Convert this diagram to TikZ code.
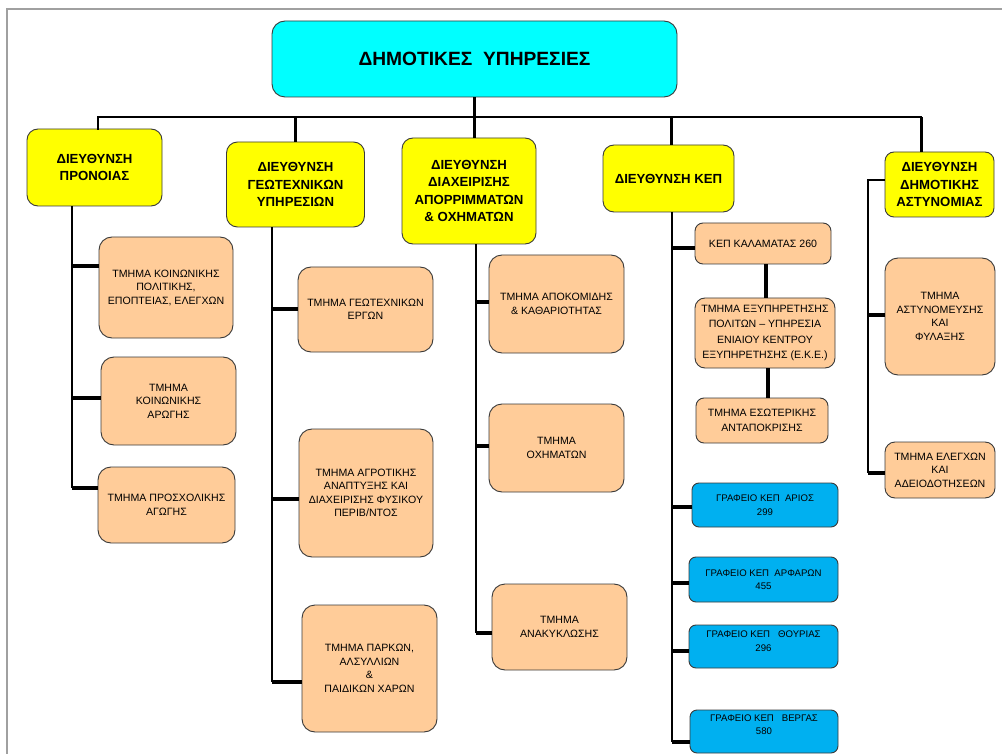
\documentclass[tikz,border=0pt]{standalone}
\usepackage{fontspec}
\setmainfont{Liberation Sans}
\definecolor{cyanbox}{HTML}{00FFFF}
\definecolor{yelbox}{HTML}{FFFF00}
\definecolor{peach}{HTML}{FFCC99}
\definecolor{bluebox}{HTML}{00B0F0}
\definecolor{edge}{HTML}{3A3A3A}
\definecolor{frame}{HTML}{A0A0A0}
\tikzset{
  basebox/.style={draw=edge, line width=0.9pt, align=center, inner sep=2pt},
  topbox/.style={basebox, fill=cyanbox, rounded corners=13pt, font=\fontsize{19.2}{22}\selectfont\bfseries},
  deptbox/.style={basebox, fill=yelbox, rounded corners=11pt, font=\fontsize{13.2}{17.2}\selectfont\bfseries},
  subbox/.style={basebox, fill=peach, rounded corners=13pt, font=\fontsize{10.6}{13.5}\selectfont},
  smallbox/.style={basebox, fill=peach, rounded corners=8pt, font=\fontsize{10.6}{15}\selectfont},
  kepbox/.style={basebox, fill=bluebox, rounded corners=7pt, font=\fontsize{9.6}{13.5}\selectfont},
  busline/.style={line width=2pt, line cap=rect},
  dropline/.style={line width=3pt},
  trunkline/.style={line width=2.6pt},
  connline/.style={line width=3.8pt},
}
\begin{document}
\begin{tikzpicture}[x=1pt,y=-1pt]
\useasboundingbox (0,0) rectangle (1002,754);
% page frame
\draw[frame, line width=1.2pt] (1002,9) -- (7,9) -- (7,754);

% top
\node[topbox, minimum width=405pt, minimum height=76pt] (top) at (474.5,59) {ΔΗΜΟΤΙΚΕΣ\ \ ΥΠΗΡΕΣΙΕΣ};

% departments
\node[deptbox, minimum width=135pt, minimum height=77pt] (D1) at (94.5,167.5) {ΔΙΕΥΘΥΝΣΗ\\ΠΡΟΝΟΙΑΣ};
\node[deptbox, minimum width=138pt, minimum height=85pt] (D2) at (295.5,184.5) {ΔΙΕΥΘΥΝΣΗ\\ΓΕΩΤΕΧΝΙΚΩΝ\\ΥΠΗΡΕΣΙΩΝ};
\node[deptbox, minimum width=134pt, minimum height=106pt] (D3) at (469,191) {ΔΙΕΥΘΥΝΣΗ\\ΔΙΑΧΕΙΡΙΣΗΣ\\ΑΠΟΡΡΙΜΜΑΤΩΝ\\\& ΟΧΗΜΑΤΩΝ};
\node[deptbox, minimum width=131pt, minimum height=67pt] (D4) at (668.5,178.5) {ΔΙΕΥΘΥΝΣΗ ΚΕΠ};
\node[deptbox, minimum width=109pt, minimum height=65pt, rounded corners=9pt] (D5) at (939.5,184.5) {ΔΙΕΥΘΥΝΣΗ\\ΔΗΜΟΤΙΚΗΣ\\ΑΣΤΥΝΟΜΙΑΣ};

% Pronoia children
\node[subbox, minimum width=134pt, minimum height=101pt] (C11) at (166,287.5) {ΤΜΗΜΑ ΚΟΙΝΩΝΙΚΗΣ\\ΠΟΛΙΤΙΚΗΣ,\\ΕΠΟΠΤΕΙΑΣ, ΕΛΕΓΧΩΝ};
\node[subbox, minimum width=135pt, minimum height=88pt] (C12) at (168.5,401) {ΤΜΗΜΑ\\ΚΟΙΝΩΝΙΚΗΣ\\ΑΡΩΓΗΣ};
\node[subbox, minimum width=137pt, minimum height=76pt] (C13) at (166.5,505) {ΤΜΗΜΑ ΠΡΟΣΧΟΛΙΚΗΣ\\ΑΓΩΓΗΣ};

% Geotechnical children
\node[subbox, minimum width=135pt, minimum height=85pt] (C21) at (365.5,309.5) {ΤΜΗΜΑ ΓΕΩΤΕΧΝΙΚΩΝ\\ΕΡΓΩΝ};
\node[subbox, minimum width=134pt, minimum height=128pt] (C22) at (366,493) {ΤΜΗΜΑ ΑΓΡΟΤΙΚΗΣ\\ΑΝΑΠΤΥΞΗΣ ΚΑΙ\\ΔΙΑΧΕΙΡΙΣΗΣ ΦΥΣΙΚΟΥ\\ΠΕΡΙΒ/ΝΤΟΣ};
\node[subbox, minimum width=135pt, minimum height=127pt] (C23) at (369.5,668.5) {ΤΜΗΜΑ ΠΑΡΚΩΝ,\\ΑΛΣΥΛΛΙΩΝ\\\&\\ΠΑΙΔΙΚΩΝ ΧΑΡΩΝ};

% Waste children
\node[subbox, minimum width=135pt, minimum height=98pt] (C31) at (556.5,304) {ΤΜΗΜΑ ΑΠΟΚΟΜΙΔΗΣ\\\& ΚΑΘΑΡΙΟΤΗΤΑΣ};
\node[subbox, minimum width=135pt, minimum height=88pt] (C32) at (556.5,448) {ΤΜΗΜΑ\\ΟΧΗΜΑΤΩΝ};
\node[subbox, minimum width=135pt, minimum height=86pt] (C33) at (559.5,627) {ΤΜΗΜΑ\\ΑΝΑΚΥΚΛΩΣΗΣ};

% KEP children
\node[smallbox, minimum width=136pt, minimum height=41pt] (K1) at (763,243.5) {ΚΕΠ ΚΑΛΑΜΑΤΑΣ 260};
\node[subbox, rounded corners=10pt, minimum width=140pt, minimum height=70pt, font=\fontsize{10.6}{15.5}\selectfont] (K2) at (765,333) {ΤΜΗΜΑ ΕΞΥΠΗΡΕΤΗΣΗΣ\\ΠΟΛΙΤΩΝ – ΥΠΗΡΕΣΙΑ\\ΕΝΙΑΙΟΥ ΚΕΝΤΡΟΥ\\ΕΞΥΠΗΡΕΤΗΣΗΣ (Ε.Κ.Ε.)};
\node[smallbox, minimum width=132pt, minimum height=45pt] (K3) at (762,420.5) {ΤΜΗΜΑ ΕΣΩΤΕΡΙΚΗΣ\\ΑΝΤΑΠΟΚΡΙΣΗΣ};
\node[kepbox, minimum width=146pt, minimum height=44pt] (B1) at (765,505) {ΓΡΑΦΕΙΟ ΚΕΠ\ \ ΑΡΙΟΣ\\299};
\node[kepbox, minimum width=149pt, minimum height=45pt] (B2) at (763.5,579.5) {ΓΡΑΦΕΙΟ ΚΕΠ\ \ ΑΡΦΑΡΩΝ\\455};
\node[kepbox, minimum width=149pt, minimum height=43pt] (B3) at (763.5,646.5) {ΓΡΑΦΕΙΟ ΚΕΠ\ \ \ ΘΟΥΡΙΑΣ\\296\\[-3pt]\mbox{}};
\node[kepbox, minimum width=148pt, minimum height=43pt] (B4) at (764,731.5) {ΓΡΑΦΕΙΟ ΚΕΠ\ \ \ ΒΕΡΓΑΣ\\580\\\mbox{}};

% Police children
\node[subbox, minimum width=110pt, minimum height=117pt] (P1) at (940,316.5) {ΤΜΗΜΑ\\ΑΣΤΥΝΟΜΕΥΣΗΣ\\ΚΑΙ\\ΦΥΛΑΞΗΣ};
\node[subbox, rounded corners=10pt, minimum width=110pt, minimum height=56pt] (P2) at (940,470) {ΤΜΗΜΑ ΕΛΕΓΧΩΝ\\ΚΑΙ\\ΑΔΕΙΟΔΟΤΗΣΕΩΝ};

% bus
\coordinate (b1) at (98,117);
\coordinate (b2) at (295,117);
\coordinate (b3) at (474,117);
\coordinate (b4) at (671,117);
\coordinate (b5) at (921,117);
\draw[dropline] (top.south) -- (top.south |- b3);
\draw[busline] (b1) -- (b5);
\draw[busline] (b1) -- (b1 |- D1.north);
\draw[dropline] (b2) -- (b2 |- D2.north);
\draw[dropline] (b3) -- (b3 |- D3.north);
\draw[dropline] (b4) -- (b4 |- D4.north);
\draw[dropline] (b5) -- (b5 |- D5.north);

% trunk Pronoia
\coordinate (t1) at (72,488);
\draw[trunkline] (D1.south -| t1) -- (t1);
\draw[connline] (72,266) -- (C11.west |- 0,266);
\draw[connline] (72,398) -- (C12.west |- 0,398);
\draw[connline] (t1) -- (C13.west |- t1);

% trunk Geotech
\coordinate (t2) at (272,682);
\draw[trunkline] (D2.south -| t2) -- (t2);
\draw[connline] (272,309) -- (C21.west |- 0,309);
\draw[connline] (272,499) -- (C22.west |- 0,499);
\draw[connline] (t2) -- (C23.west |- t2);

% trunk Waste
\coordinate (t3) at (476,633);
\draw[trunkline] (D3.south -| t3) -- (t3);
\draw[connline] (476,302) -- (C31.west |- 0,302);
\draw[connline] (476,446) -- (C32.west |- 0,446);
\draw[connline] (t3) -- (C33.west |- t3);

% trunk KEP
\coordinate (t4) at (672,742);
\draw[trunkline] (D4.south -| t4) -- (t4);
\draw[connline] (672,248) -- (K1.west |- 0,248);
\draw[connline] (K1.south -| 766,0) -- (K2.north -| 766,0);
\draw[connline] (K2.south -| 768,0) -- (K3.north -| 768,0);
\draw[connline] (672,507) -- (B1.west |- 0,507);
\draw[connline] (672,583) -- (B2.west |- 0,583);
\draw[connline] (672,651) -- (B3.west |- 0,651);
\draw[connline] (t4) -- (B4.west |- t4);

% trunk Police
\coordinate (t5) at (868,473);
\draw[trunkline] (D5.west |- 0,180) -- (868,180) -- (t5);
\draw[connline] (868,315) -- (P1.west |- 0,315);
\draw[connline] (t5) -- (P2.west |- t5);
\end{tikzpicture}
\end{document}
